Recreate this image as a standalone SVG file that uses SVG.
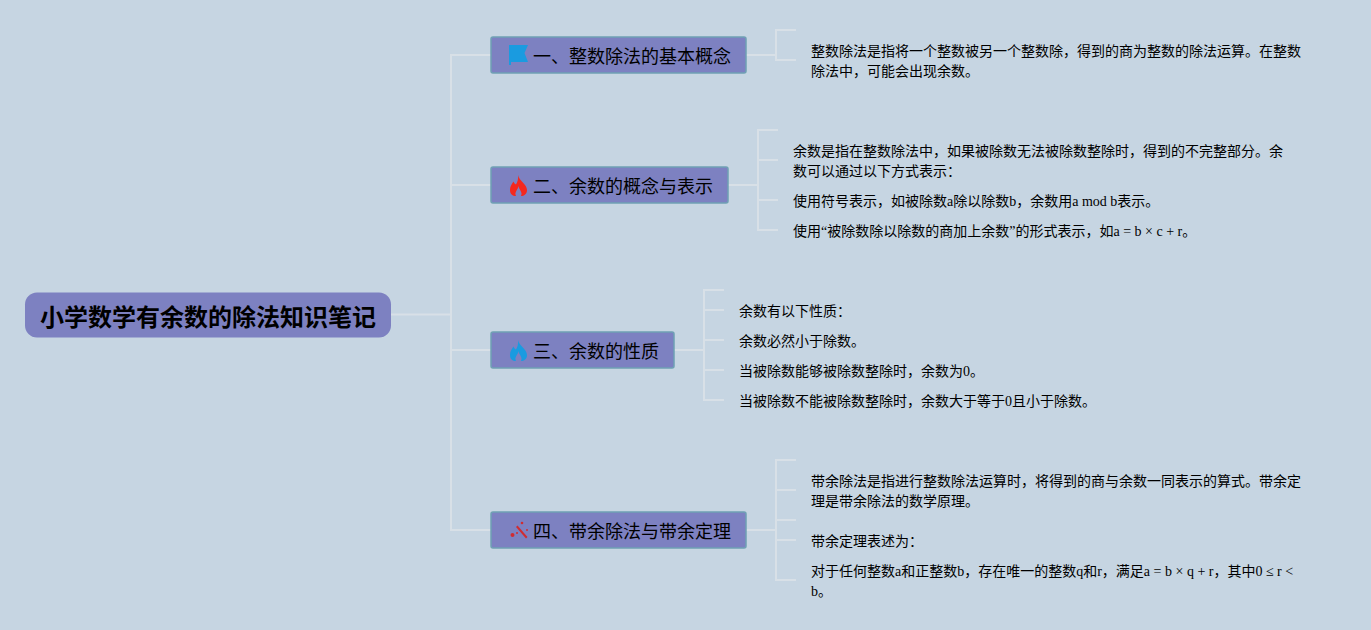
<svg xmlns="http://www.w3.org/2000/svg" width="1371" height="630" viewBox="0 0 1371 630">
<style>
text{font-family:"Liberation Serif","Noto Sans CJK SC",serif;fill:#000}
.root{font-size:24px;font-weight:700}
.branch{font-size:18px}
.leaf{font-size:14px}
.box{fill:#7d81c1;stroke:#6fa0b4;stroke-width:1.500}
#connectors path{fill:none;stroke:#d8e0e7;stroke-width:2}
</style>
<rect width="1371" height="630" fill="#c6d5e2"/>
<g id="connectors">
<path d="M391 314.500H451M491 55H451V530H491M451 185H491M451 350H491"/>
<path d="M746 55H776M796 30H776V60H796"/>
<path d="M728 185H758M778 130H758V230H778M758 160H778M758 200H778"/>
<path d="M674 350H704M724 290H704V400H724M704 310H724M704 340H724M704 370H724"/>
<path d="M746 530H776M796 460H776V580H796M776 490H796M776 520H796M776 540H796"/>
</g>
<g id="root">
<rect x="25" y="292.500" width="366" height="45" rx="12" fill="#7d81c1"/>
<text class="root" x="40" y="326">小学数学有余数的除法知识笔记</text>
</g>
<g id="branch1">
<rect class="box" x="491" y="37" width="255" height="36" rx="2"/>
<path d="M509 45H528L524.500 53L528 62H511V65H509Z" fill="#1a9be0"/>
<text class="branch" x="533" y="63">一、整数除法的基本概念</text>
</g>
<g id="leaf1">
<text class="leaf" x="811" y="56">整数除法是指将一个整数被另一个整数除，得到的商为整数的除法运算。在整数</text>
<text class="leaf" x="811" y="76">除法中，可能会出现余数。</text>
</g>
<g id="branch2">
<rect class="box" x="491" y="167" width="237" height="36" rx="2"/>
<path d="M518 175C519 181 527 184 527 190C527 194 524 196 521 196C523 192 519 190 518.500 186C518 190 514 192 516 196C512.500 196 510 194 510 190C510 186 512 184 513.500 181.500C514 183 515 184 516 184.500C517.500 182 518.500 179 518 175Z" fill="#f5281e"/>
<text class="branch" x="533" y="193">二、余数的概念与表示</text>
</g>
<g id="leaf2">
<text class="leaf" x="793" y="156">余数是指在整数除法中，如果被除数无法被除数整除时，得到的不完整部分。余</text>
<text class="leaf" x="793" y="176">数可以通过以下方式表示：</text>
<text class="leaf" x="793" y="206">使用符号表示，如被除数a除以除数b，余数用a mod b表示。</text>
<text class="leaf" x="793" y="236">使用“被除数除以除数的商加上余数”的形式表示，如a = b × c + r。</text>
</g>
<g id="branch3">
<rect class="box" x="491" y="332" width="183" height="36" rx="2"/>
<path d="M518 340C519 346 527 349 527 355C527 359 524 361 521 361C523 357 519 355 518.500 351C518 355 514 357 516 361C512.500 361 510 359 510 355C510 351 512 349 513.500 346.500C514 348 515 349 516 349.500C517.500 347 518.500 344 518 340Z" fill="#1a9be0"/>
<text class="branch" x="533" y="358">三、余数的性质</text>
</g>
<g id="leaf3">
<text class="leaf" x="739" y="316">余数有以下性质：</text>
<text class="leaf" x="739" y="346">余数必然小于除数。</text>
<text class="leaf" x="739" y="376">当被除数能够被除数整除时，余数为0。</text>
<text class="leaf" x="739" y="406">当被除数不能被除数整除时，余数大于等于0且小于除数。</text>
</g>
<g id="branch4">
<rect class="box" x="491" y="512" width="255" height="36" rx="2"/>
<path d="M516 527L517.500 525.500L527.500 537L526 538.500Z" fill="#d02c32"/>
<circle cx="512.500" cy="535" r="2" fill="#d02c32"/>
<circle cx="522" cy="523" r="1.300" fill="#d02c32"/>
<circle cx="527" cy="530" r="1" fill="#d02c32"/>
<circle cx="517" cy="533" r="1" fill="#d02c32"/>
<text class="branch" x="533" y="538">四、带余除法与带余定理</text>
</g>
<g id="leaf4">
<text class="leaf" x="811" y="486">带余除法是指进行整数除法运算时，将得到的商与余数一同表示的算式。带余定</text>
<text class="leaf" x="811" y="506">理是带余除法的数学原理。</text>
<text class="leaf" x="811" y="546">带余定理表述为：</text>
<text class="leaf" x="811" y="576">对于任何整数a和正整数b，存在唯一的整数q和r，满足a = b × q + r，其中0 ≤ r &lt;</text>
<text class="leaf" x="811" y="596">b。</text>
</g>
</svg>
